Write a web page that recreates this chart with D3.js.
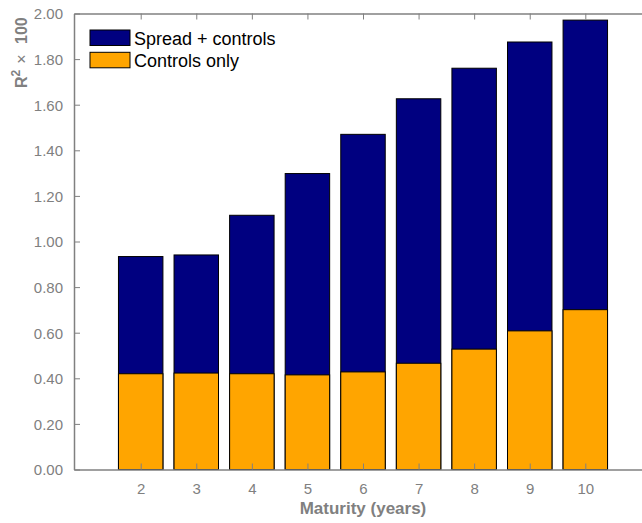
<!DOCTYPE html>
<html><head><meta charset="utf-8">
<script src="https://cdn.jsdelivr.net/npm/d3@7"></script>
<style>body{margin:0;background:#fff}svg{display:block}</style>
</head><body>
<svg id="c" width="642" height="523"></svg>
<script>
const maturities = [2,3,4,5,6,7,8,9,10];
const spreadControls = [0.934,0.941,1.115,1.298,1.470,1.626,1.760,1.875,1.971];
const controlsOnly = [0.420,0.423,0.420,0.415,0.428,0.466,0.528,0.608,0.701];
const yTicks = [0,0.2,0.4,0.6,0.8,1.0,1.2,1.4,1.6,1.8,2.0];
const seriesNames = ["Spread + controls","Controls only"];
const colors = ["#000080","#FFA500"];

const svg = d3.select("#c");
const L=74, R=652, T=13.5, B=469.5;
const x = d3.scaleLinear().domain([0.8,11.2]).range([L,R]);
const y = d3.scaleLinear().domain([0,2]).range([B,T]);
const gray = "#808080";
const bw = x(0.8)-x(0);

const g = svg.append("g");
g.selectAll("rect.s").data(maturities).enter().append("rect")
  .attr("x", (d)=>x(d)-bw/2).attr("width", bw)
  .attr("y", (d,i)=>y(spreadControls[i])).attr("height",(d,i)=>B-y(spreadControls[i]))
  .attr("fill",colors[0]).attr("stroke","#000").attr("stroke-width",1);
g.selectAll("rect.c").data(maturities).enter().append("rect")
  .attr("x", (d)=>x(d)-bw/2).attr("width", bw)
  .attr("y", (d,i)=>y(controlsOnly[i])).attr("height",(d,i)=>B-y(controlsOnly[i]))
  .attr("fill",colors[1]).attr("stroke","#000").attr("stroke-width",1);

function style(sel, fs){
  sel.select(".domain").attr("stroke",gray).attr("stroke-width",1.5);
  sel.selectAll(".tick line").attr("stroke",gray);
  sel.selectAll(".tick text").attr("fill",gray).attr("font-size",fs)
     .attr("font-family","'Liberation Sans', Arial, sans-serif");
}
const fmt = d3.format(".2f");
const ax = svg.append("g").attr("transform",`translate(0,${B})`)
  .call(d3.axisBottom(x).tickValues(maturities).tickSizeInner(-6).tickSizeOuter(0).tickPadding(14));
style(ax,15);
const axT = svg.append("g").attr("transform",`translate(0,${T})`)
  .call(d3.axisTop(x).tickValues(maturities).tickSizeInner(-6).tickSizeOuter(0).tickFormat(""));
style(axT,15);
const ay = svg.append("g").attr("transform",`translate(${L},0)`)
  .call(d3.axisLeft(y).tickValues(yTicks).tickFormat(fmt).tickSizeInner(-6).tickSizeOuter(0).tickPadding(11));
style(ay,15);
ay.selectAll(".tick text").attr("dy","0.36em");

svg.append("text").attr("x",(L+R)/2).attr("y",514).attr("text-anchor","middle")
  .attr("fill",gray).attr("font-weight","bold").attr("font-size",17)
  .attr("font-family","'Liberation Sans', Arial, sans-serif").text("Maturity (years)");

const yl = svg.append("text").attr("transform","translate(27,88) rotate(-90)")
  .attr("text-anchor","start").attr("fill",gray).attr("font-weight","bold").attr("font-size",16)
  .attr("font-family","'Liberation Sans', Arial, sans-serif");
yl.append("tspan").text("R");
yl.append("tspan").attr("font-size",12).attr("dy",-7).text("2");
yl.append("tspan").attr("dy",7).attr("dx",6).attr("font-weight","normal").text("\u00d7");
yl.append("tspan").attr("dx",6).text(" 100");

const lg = svg.append("g");
seriesNames.forEach((n,i)=>{
  lg.append("rect").attr("x",90).attr("y",30+i*22.3).attr("width",40).attr("height",15.5)
    .attr("fill",colors[i]).attr("stroke","#000").attr("stroke-width",1);
  lg.append("text").attr("x",134).attr("y",45+i*21.5).attr("font-size",18)
    .attr("font-family","'Liberation Sans', Arial, sans-serif").attr("fill","#000").text(n);
});
</script>
</body></html>
